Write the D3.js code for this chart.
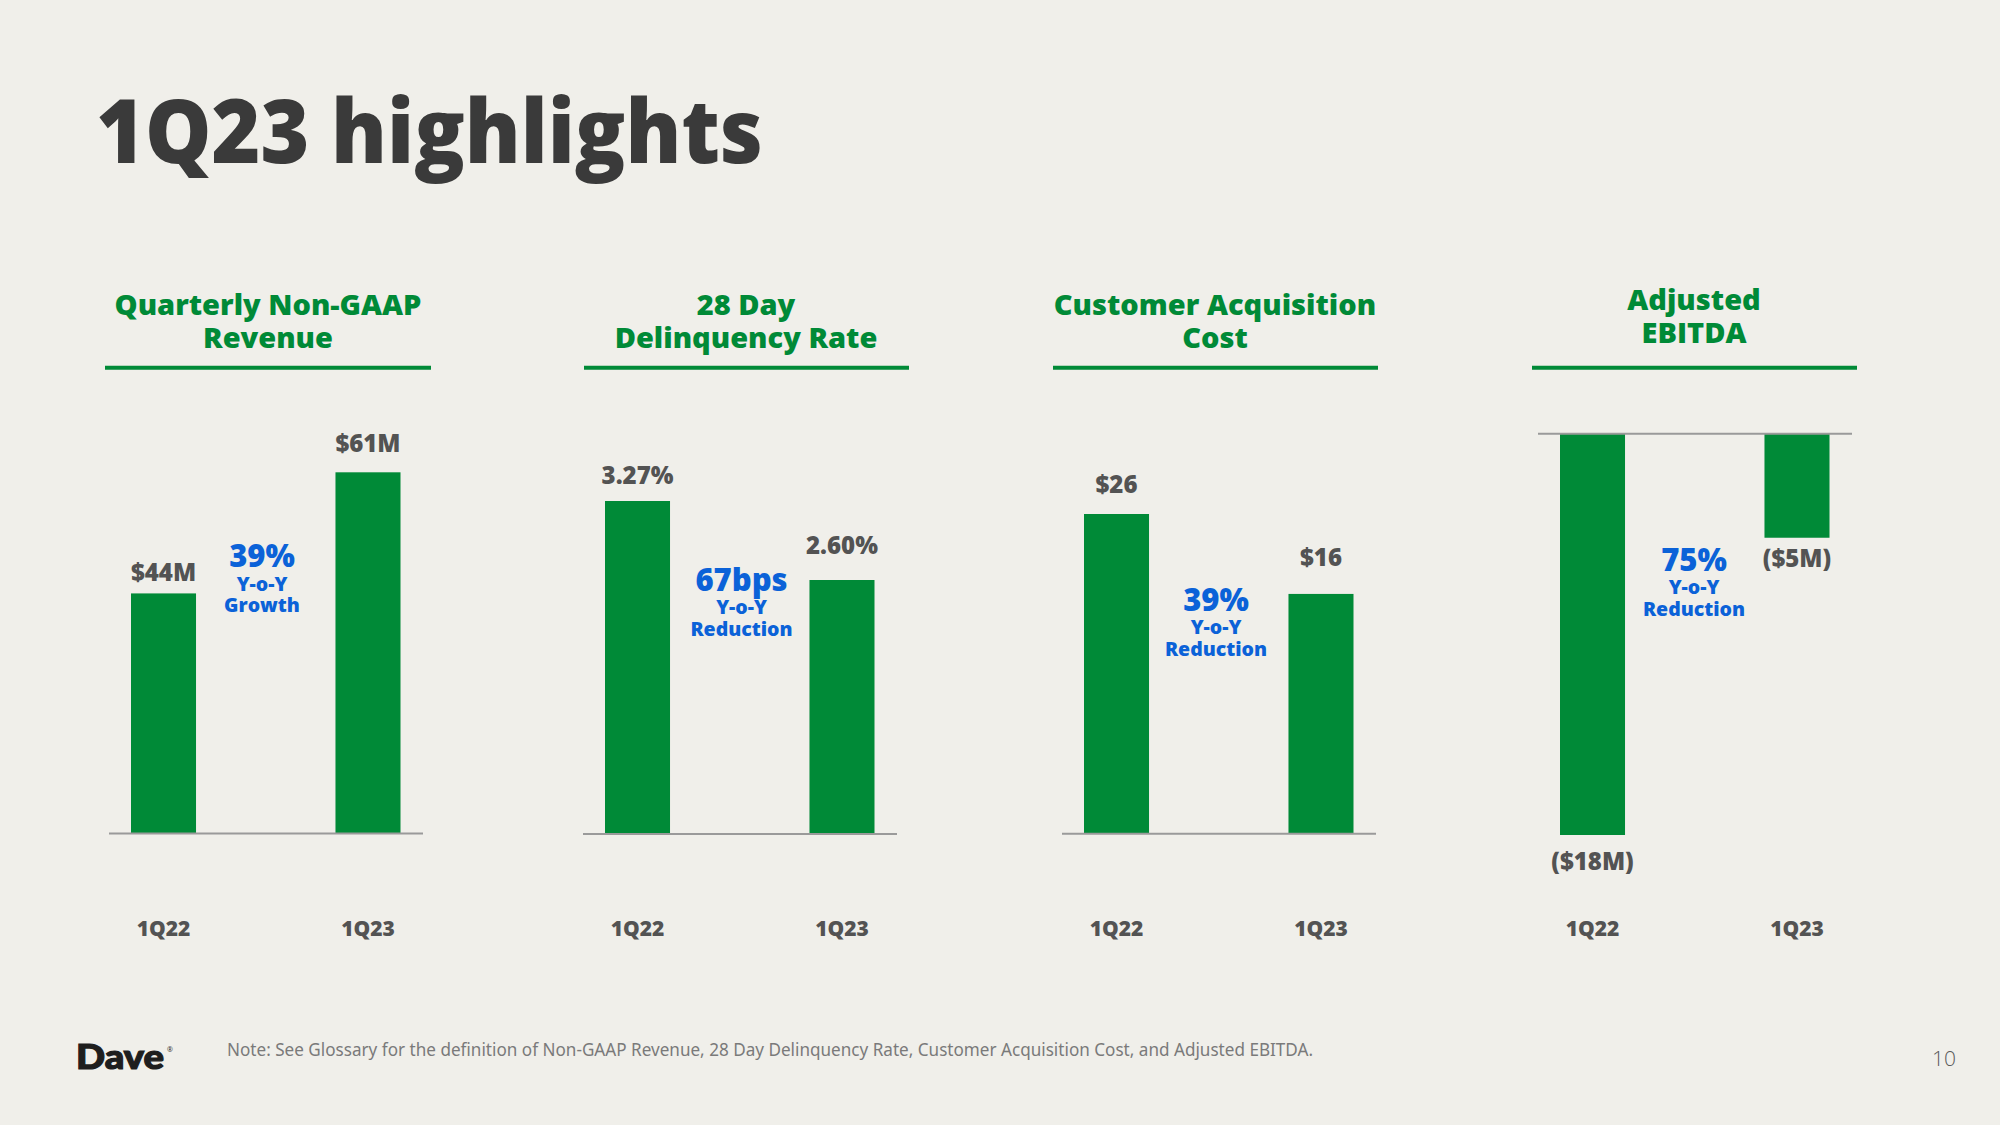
<!DOCTYPE html>
<html>
<head>
<meta charset="utf-8">
<script src="https://cdn.jsdelivr.net/npm/d3@7"></script>
<style>
  html, body { margin: 0; padding: 0; background: #F0EFEA; }
  svg { display: block; }
</style>
</head>
<body>
<svg id="chart" width="2000" height="1125"></svg>
<script>
// ---------------- DATA ----------------
const categories = ["1Q22", "1Q23"];
const panelTitles = [
  ["Quarterly Non-GAAP", "Revenue"],
  ["28 Day", "Delinquency Rate"],
  ["Customer Acquisition", "Cost"],
  ["Adjusted", "EBITDA"]
];
const revenueValues = [44, 61];
const revenueLabels = ["$44M", "$61M"];
const delinquencyValues = [3.27, 2.60];
const delinquencyLabels = ["3.27%", "2.60%"];
const cacValues = [26, 16];
const cacLabels = ["$26", "$16"];
const ebitdaValues = [-18, -5];
const ebitdaLabels = ["($18M)", "($5M)"];
const yoyValues = ["39%", "67bps", "39%", "75%"];
const yoyWords = ["Growth", "Reduction", "Reduction", "Reduction"];
const titleText = "1Q23 highlights";
const noteText = "Note: See Glossary for the definition of Non-GAAP Revenue, 28 Day Delinquency Rate, Customer Acquisition Cost, and Adjusted EBITDA.";
const pageNumber = "10";

// ---------------- LAYOUT / STYLE ----------------
const GREEN = "#008A37";
const BLUE = "#0B62D8";
const GRAY = "#535353";
const FONT = "'Open Sans', 'Noto Sans', sans-serif";

const panels = [
  { values: revenueValues, labels: revenueLabels, x0: 109, domain: [10.3, 61], range: [833.5, 472.3],
    labelOff: [12.7, 20], headCx: 268, ulX: [105, 431], yoyY: 567, yoyCx: 262 },
  { values: delinquencyValues, labels: delinquencyLabels, x0: 583, domain: [0.446, 3.27], range: [834, 501],
    labelOff: [17, 26], headCx: 746, ulX: [584, 909], yoyY: 590.7, yoyCx: 741.5 },
  { values: cacValues, labels: cacLabels, x0: 1062, domain: [-14, 26], range: [833.7, 514],
    labelOff: [20.7, 28], headCx: 1215, ulX: [1053, 1378], yoyY: 610.7, yoyCx: 1216 },
  { values: ebitdaValues, labels: ebitdaLabels, x0: 1538, domain: [-0.45, -18], range: [433.7, 835],
    labelOff: [35, 29], headCx: 1694, ulX: [1532, 1857], yoyY: 570.7, yoyCx: 1694, negative: true,
    headY: [310, 342.7] }
];
const PANEL_W = 314;

const svg = d3.select("#chart");
svg.append("rect").attr("width", 2000).attr("height", 1125).attr("fill", "#F0EFEA");

// Title
svg.append("text")
  .attr("x", 96).attr("y", 163)
  .attr("font-family", FONT).attr("font-weight", 800).attr("font-size", 89)
  .attr("fill", "#3A3A3A")
  .attr("textLength", 667).attr("lengthAdjust", "spacingAndGlyphs")
  .text(titleText);

panels.forEach((p, i) => {
  const g = svg.append("g");

  // header
  const hy = p.headY || [315, 348];
  panelTitles[i].forEach((line, j) => {
    g.append("text")
      .attr("x", p.headCx).attr("y", hy[j])
      .attr("text-anchor", "middle")
      .attr("font-family", FONT).attr("font-weight", 800).attr("font-size", 29)
      .attr("fill", GREEN)
      .text(line);
  });
  g.append("line")
    .attr("x1", p.ulX[0]).attr("x2", p.ulX[1])
    .attr("y1", 367.7).attr("y2", 367.7)
    .attr("stroke", GREEN).attr("stroke-width", 4);

  const x = d3.scaleBand().domain(categories).range([p.x0 + 22, p.x0 + 291.5])
    .paddingInner(0.682).paddingOuter(0);
  const y = d3.scaleLinear().domain(p.domain).range(p.range);

  const data = categories.map((c, k) => ({ c, v: p.values[k], label: p.labels[k], off: p.labelOff[k] }));

  // bars
  g.selectAll("rect.bar").data(data).enter().append("rect")
    .attr("class", "bar")
    .attr("x", d => x(d.c))
    .attr("width", x.bandwidth())
    .attr("y", d => Math.min(y(d.v), y(p.domain[0])))
    .attr("height", d => Math.abs(y(d.v) - y(p.domain[0])))
    .attr("fill", GREEN);

  // baseline
  g.append("line")
    .attr("x1", p.x0).attr("x2", p.x0 + PANEL_W)
    .attr("y1", y(p.domain[0])).attr("y2", y(p.domain[0]))
    .attr("stroke", "#9A9A9A").attr("stroke-width", 2);

  // value labels
  g.selectAll("text.val").data(data).enter().append("text")
    .attr("class", "val")
    .attr("x", d => x(d.c) + x.bandwidth() / 2)
    .attr("y", d => p.negative ? y(d.v) + d.off : y(d.v) - d.off)
    .attr("text-anchor", "middle")
    .attr("font-family", FONT).attr("font-weight", 800).attr("font-size", 24)
    .attr("fill", GRAY)
    .text(d => d.label);

  // YoY annotation
  const a = g.append("g").attr("text-anchor", "middle").attr("font-family", FONT).attr("font-weight", 800).attr("fill", BLUE);
  a.append("text").attr("x", p.yoyCx).attr("y", p.yoyY).attr("font-size", 31).text(yoyValues[i]);
  a.append("text").attr("x", p.yoyCx).attr("y", p.yoyY + 23.5).attr("font-size", 19.5).text("Y-o-Y");
  a.append("text").attr("x", p.yoyCx).attr("y", p.yoyY + 45).attr("font-size", 19.5).text(yoyWords[i]);

  // category axis
  const ax = g.append("g").attr("transform", "translate(0,915)")
    .call(d3.axisBottom(x).tickSize(0).tickPadding(0));
  ax.select(".domain").remove();
  ax.selectAll("text")
    .attr("dy", "0")
    .attr("y", 20.5)
    .attr("font-family", FONT).attr("font-weight", 800).attr("font-size", 21)
    .attr("fill", GRAY);
});

// Footer
svg.append("text")
  .attr("x", 76).attr("y", 1069)
  .attr("font-family", "Lato, 'Open Sans', sans-serif").attr("font-weight", 900).attr("font-size", 34)
  .attr("fill", "#1E1E1E").attr("stroke", "#1E1E1E").attr("stroke-width", 1.2)
  .attr("textLength", 88).attr("lengthAdjust", "spacingAndGlyphs")
  .text("Dave");
svg.append("text")
  .attr("x", 167).attr("y", 1052)
  .attr("font-family", FONT).attr("font-size", 7).attr("fill", "#1E1E1E")
  .text("®");
svg.append("text")
  .attr("x", 227).attr("y", 1056)
  .attr("font-family", "'Noto Sans', sans-serif").attr("font-size", 18)
  .attr("fill", "#7A7A7A")
  .attr("textLength", 1086).attr("lengthAdjust", "spacingAndGlyphs")
  .text(noteText);
svg.append("text")
  .attr("x", 1944).attr("y", 1066)
  .attr("text-anchor", "middle")
  .attr("font-family", "'Open Sans', sans-serif").attr("font-weight", 300).attr("font-size", 21)
  .attr("fill", "#5A5A5A")
  .text(pageNumber);
</script>
</body>
</html>
